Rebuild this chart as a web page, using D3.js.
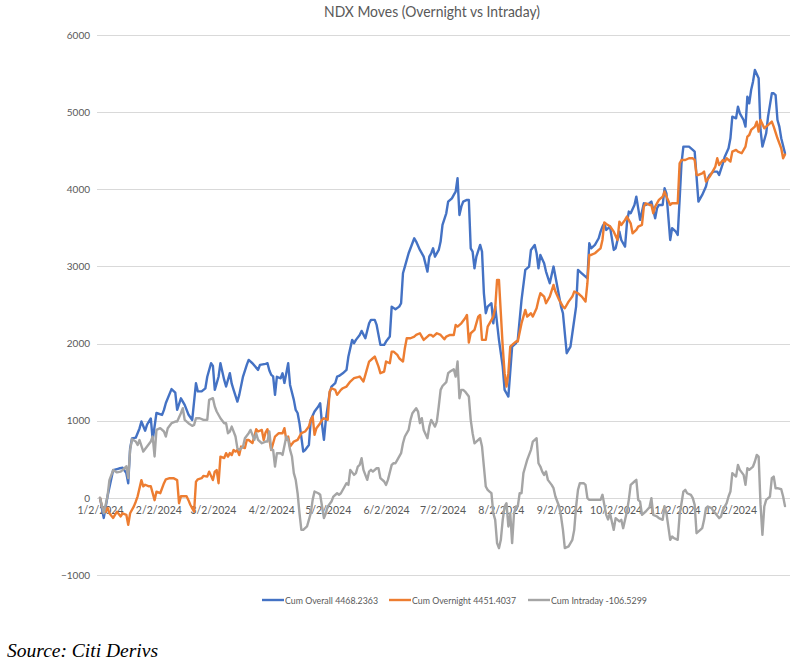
<!DOCTYPE html>
<html><head><meta charset="utf-8">
<script src="https://cdn.jsdelivr.net/npm/d3@7"></script>
<style>body{margin:0;background:#fff}svg{display:block}</style>
</head><body>
<svg id="chart" width="800" height="662"></svg>
<script>
const chartTitle = "NDX Moves (Overnight vs Intraday)";
const sourceNote = "Source: Citi Derivs";
const seriesNames = ["Cum Overall 4468.2363", "Cum Overnight 4451.4037", "Cum Intraday -106.5299"];
const yTicks = [-1000, 0, 1000, 2000, 3000, 4000, 5000, 6000];
const xTickLabels = ["1/2/2024","2/2/2024","3/2/2024","4/2/2024","5/2/2024","6/2/2024","7/2/2024","8/2/2024","9/2/2024","10/2/2024","11/2/2024","12/2/2024"];

const cumOverall = [
["2024-01-02",0],["2024-01-04",-260],["2024-01-06",20],["2024-01-09",360],["2024-01-12",380],["2024-01-14",390],["2024-01-16",320],["2024-01-17",190],["2024-01-18",640],["2024-01-19",770],["2024-01-21",780],["2024-01-23",900],["2024-01-24",990],["2024-01-26",870],["2024-01-27",950],["2024-01-29",1030],["2024-01-30",750],
["2024-02-01",1100],["2024-02-04",1075],["2024-02-05",1140],["2024-02-06",1230],["2024-02-09",1410],["2024-02-11",1365],["2024-02-12",1140],["2024-02-14",1290],["2024-02-16",1205],["2024-02-18",1080],["2024-02-20",1010],["2024-02-22",1486],["2024-02-23",1380],["2024-02-25",1380],["2024-02-27",1420],["2024-02-28",1570],
["2024-03-01",1745],["2024-03-02",1710],["2024-03-03",1400],["2024-03-05",1570],["2024-03-06",1745],["2024-03-08",1529],["2024-03-09",1443],["2024-03-11",1616],["2024-03-12",1480],["2024-03-13",1400],["2024-03-15",1248],["2024-03-16",1335],["2024-03-18",1572],["2024-03-20",1724],["2024-03-21",1788],["2024-03-23",1745],["2024-03-26",1659],["2024-03-27",1724],["2024-03-30",1737],["2024-03-31",1745],
["2024-04-01",1650],["2024-04-02",1594],["2024-04-03",1574],["2024-04-04",1335],["2024-04-05",1570],["2024-04-07",1550],["2024-04-08",1615],["2024-04-09",1490],["2024-04-10",1615],["2024-04-11",1745],["2024-04-12",1464],["2024-04-14",1270],["2024-04-15",1140],["2024-04-16",1100],["2024-04-17",968],["2024-04-19",600],["2024-04-20",620],["2024-04-22",685],["2024-04-23",1011],["2024-04-25",1119],["2024-04-27",1183],["2024-04-28",1227],["2024-04-29",950],["2024-04-30",752],
["2024-05-01",1011],["2024-05-03",1356],["2024-05-04",1443],["2024-05-06",1486],["2024-05-07",1572],["2024-05-08",1581],["2024-05-10",1615],["2024-05-12",1659],["2024-05-13",1832],["2024-05-15",2048],["2024-05-16",2005],["2024-05-17",2048],["2024-05-19",2112],["2024-05-20",2164],["2024-05-22",2069],["2024-05-24",2263],["2024-05-25",2307],["2024-05-27",2307],["2024-05-28",2242],["2024-05-30",1983],
["2024-06-01",1983],["2024-06-02",2026],["2024-06-04",2091],["2024-06-05",2479],["2024-06-07",2445],["2024-06-09",2479],["2024-06-10",2523],["2024-06-11",2911],["2024-06-12",2998],["2024-06-14",3171],["2024-06-16",3300],["2024-06-17",3365],["2024-06-18",3322],["2024-06-20",3214],["2024-06-22",3127],["2024-06-24",2933],["2024-06-25",3127],["2024-06-26",3171],["2024-06-27",3235],["2024-06-28",3127],["2024-06-30",3214],
["2024-07-01",3322],["2024-07-02",3538],["2024-07-04",3689],["2024-07-05",3840],["2024-07-07",3883],["2024-07-08",3927],["2024-07-09",3970],["2024-07-10",4143],["2024-07-11",3667],["2024-07-12",3775],["2024-07-13",3840],["2024-07-15",3862],["2024-07-16",3862],["2024-07-17",3235],["2024-07-18",3192],["2024-07-19",2976],["2024-07-20",3127],["2024-07-22",3279],["2024-07-23",3192],["2024-07-24",2652],["2024-07-25",2393],["2024-07-26",2479],["2024-07-27",2501],["2024-07-28",2523],["2024-07-29",2263],["2024-07-30",2479],
["2024-08-01",2048],["2024-08-03",1702],["2024-08-04",1400],["2024-08-05",1356],["2024-08-06",1313],["2024-08-08",1961],["2024-08-10",2004],["2024-08-11",2048],["2024-08-13",2566],["2024-08-15",2955],["2024-08-17",2998],["2024-08-18",3214],["2024-08-20",3279],["2024-08-21",3171],["2024-08-22",2976],["2024-08-23",3149],["2024-08-25",3041],["2024-08-26",2933],["2024-08-28",2782],["2024-08-30",2998],
["2024-09-01",2739],["2024-09-03",2479],["2024-09-04",2393],["2024-09-06",1875],["2024-09-08",1961],["2024-09-09",2134],["2024-09-11",2479],["2024-09-12",2955],["2024-09-14",2911],["2024-09-16",2868],["2024-09-17",2847],["2024-09-18",3300],["2024-09-19",3235],["2024-09-21",3279],["2024-09-23",3365],["2024-09-24",3451],["2024-09-25",3516],["2024-09-26",3560],["2024-09-27",3473],["2024-09-29",3516],
["2024-10-01",3214],["2024-10-02",3235],["2024-10-04",3451],["2024-10-05",3343],["2024-10-07",3257],["2024-10-08",3559],["2024-10-09",3711],["2024-10-10",3689],["2024-10-12",3797],["2024-10-13",3905],["2024-10-15",3603],["2024-10-17",3819],["2024-10-18",3797],["2024-10-20",3819],["2024-10-21",3840],["2024-10-23",3624],["2024-10-24",3754],["2024-10-25",3797],["2024-10-27",3797],["2024-10-28",4013],["2024-10-29",3948],["2024-10-31",3343],
["2024-11-01",3495],["2024-11-03",3451],["2024-11-04",3408],["2024-11-05",3862],["2024-11-06",4337],["2024-11-07",4553],["2024-11-10",4553],["2024-11-12",4510],["2024-11-13",4488],["2024-11-14",4164],["2024-11-15",3840],["2024-11-17",3927],["2024-11-19",4035],["2024-11-20",4143],["2024-11-21",4186],["2024-11-23",4229],["2024-11-25",4229],["2024-11-26",4186],["2024-11-28",4337],["2024-11-29",4423],
["2024-12-01",4531],["2024-12-02",4661],["2024-12-03",4942],["2024-12-05",4920],["2024-12-06",5071],["2024-12-07",4985],["2024-12-09",4898],["2024-12-10",4812],["2024-12-11",5201],["2024-12-12",5114],["2024-12-13",5287],["2024-12-14",5395],["2024-12-15",5546],["2024-12-17",5438],["2024-12-18",4769],["2024-12-19",4553],["2024-12-21",4726],["2024-12-22",4942],["2024-12-24",5244],["2024-12-25",5244],["2024-12-26",5222],["2024-12-27",4898],["2024-12-28",4812],["2024-12-29",4661],["2024-12-31",4468]
];

const cumOvernight = [
["2024-01-02",0],["2024-01-03",-110],["2024-01-05",-180],["2024-01-06",-130],["2024-01-07",-200],["2024-01-09",-260],["2024-01-11",-180],["2024-01-13",-240],["2024-01-14",-200],["2024-01-16",-220],["2024-01-17",-350],["2024-01-18",-200],["2024-01-20",-110],["2024-01-21",-50],["2024-01-22",20],["2024-01-24",230],["2024-01-25",150],["2024-01-26",170],["2024-01-28",150],["2024-01-29",150],["2024-01-31",-30],
["2024-02-01",80],["2024-02-03",60],["2024-02-05",190],["2024-02-06",240],["2024-02-08",255],["2024-02-10",255],["2024-02-12",230],["2024-02-13",-70],["2024-02-14",20],["2024-02-16",20],["2024-02-17",20],["2024-02-18",-30],["2024-02-19",-90],["2024-02-21",-180],["2024-02-22",210],["2024-02-23",240],["2024-02-25",255],["2024-02-26",285],["2024-02-28",275],["2024-02-29",340],
["2024-03-02",230],["2024-03-03",340],["2024-03-04",360],["2024-03-05",190],["2024-03-06",535],["2024-03-08",515],["2024-03-09",580],["2024-03-10",535],["2024-03-11",580],["2024-03-12",555],["2024-03-13",620],["2024-03-14",600],["2024-03-15",620],["2024-03-16",555],["2024-03-17",665],["2024-03-19",645],["2024-03-20",750],["2024-03-21",750],["2024-03-23",710],["2024-03-24",795],["2024-03-25",890],["2024-03-26",860],["2024-03-28",880],["2024-03-29",750],["2024-03-30",850],["2024-03-31",890],
["2024-04-02",620],["2024-04-04",795],["2024-04-06",838],["2024-04-08",838],["2024-04-09",903],["2024-04-10",752],["2024-04-11",795],["2024-04-12",665],["2024-04-14",730],["2024-04-16",752],["2024-04-18",838],["2024-04-20",860],["2024-04-22",924],["2024-04-23",1011],["2024-04-24",1054],["2024-04-25",816],["2024-04-26",903],["2024-04-28",968],["2024-04-29",1011],["2024-04-30",1032],
["2024-05-02",1011],["2024-05-03",1378],["2024-05-04",1421],["2024-05-06",1400],["2024-05-07",1335],["2024-05-09",1400],["2024-05-10",1421],["2024-05-12",1443],["2024-05-14",1508],["2024-05-16",1551],["2024-05-18",1564],["2024-05-19",1572],["2024-05-21",1508],["2024-05-22",1594],["2024-05-24",1767],["2024-05-26",1810],["2024-05-27",1832],["2024-05-29",1702],["2024-05-30",1616],
["2024-06-01",1637],["2024-06-02",1767],["2024-06-04",1745],["2024-06-05",1896],["2024-06-06",1896],["2024-06-08",1853],["2024-06-09",1810],["2024-06-11",1767],["2024-06-12",1940],["2024-06-13",2069],["2024-06-15",2069],["2024-06-17",2091],["2024-06-18",2112],["2024-06-20",2134],["2024-06-21",2091],["2024-06-22",2048],["2024-06-24",2091],["2024-06-25",2112],["2024-06-26",2112],["2024-06-27",2091],["2024-06-29",2134],
["2024-07-01",2112],["2024-07-03",2056],["2024-07-04",2091],["2024-07-06",2112],["2024-07-08",2112],["2024-07-09",2242],["2024-07-10",2220],["2024-07-12",2263],["2024-07-14",2328],["2024-07-15",2371],["2024-07-16",2013],["2024-07-17",2134],["2024-07-19",2177],["2024-07-21",2350],["2024-07-22",2371],["2024-07-23",2048],["2024-07-25",2048],["2024-07-26",2220],["2024-07-27",2263],["2024-07-29",2350],["2024-07-30",2458],["2024-07-31",2825],
["2024-08-01",2825],["2024-08-02",2393],["2024-08-03",1961],["2024-08-04",1616],["2024-08-05",1443],["2024-08-06",1616],["2024-08-07",1961],["2024-08-08",1983],["2024-08-10",2026],["2024-08-11",2026],["2024-08-13",2263],["2024-08-14",2350],["2024-08-15",2436],["2024-08-16",2350],["2024-08-18",2393],["2024-08-19",2350],["2024-08-21",2458],["2024-08-22",2566],["2024-08-23",2652],["2024-08-25",2609],["2024-08-26",2523],["2024-08-28",2609],["2024-08-30",2760],["2024-08-31",2674],
["2024-09-02",2566],["2024-09-04",2479],["2024-09-05",2458],["2024-09-07",2544],["2024-09-09",2609],["2024-09-10",2674],["2024-09-12",2652],["2024-09-14",2609],["2024-09-16",2544],["2024-09-17",2782],["2024-09-18",3149],["2024-09-19",3149],["2024-09-21",3171],["2024-09-23",3214],["2024-09-24",3235],["2024-09-25",3343],["2024-09-26",3570],["2024-09-27",3550],["2024-09-29",3520],
["2024-10-01",3451],["2024-10-03",3343],["2024-10-04",3581],["2024-10-05",3538],["2024-10-07",3603],["2024-10-08",3646],["2024-10-10",3559],["2024-10-11",3430],["2024-10-13",3473],["2024-10-14",3516],["2024-10-16",3538],["2024-10-17",3775],["2024-10-18",3819],["2024-10-20",3797],["2024-10-21",3797],["2024-10-22",3689],["2024-10-23",3775],["2024-10-25",3862],["2024-10-27",3905],["2024-10-28",3970],["2024-10-29",3905],["2024-10-31",3797],
["2024-11-01",3819],["2024-11-03",3819],["2024-11-04",3819],["2024-11-05",4337],["2024-11-06",4380],["2024-11-08",4380],["2024-11-10",4402],["2024-11-12",4402],["2024-11-13",4380],["2024-11-14",4186],["2024-11-15",4186],["2024-11-17",4207],["2024-11-18",4229],["2024-11-19",4099],["2024-11-21",4164],["2024-11-22",4207],["2024-11-24",4294],["2024-11-25",4402],["2024-11-26",4315],["2024-11-28",4380],["2024-11-29",4359],["2024-11-30",4402],
["2024-12-02",4359],["2024-12-03",4488],["2024-12-05",4510],["2024-12-06",4488],["2024-12-08",4467],["2024-12-10",4553],["2024-12-11",4683],["2024-12-12",4704],["2024-12-13",4769],["2024-12-15",4812],["2024-12-16",4877],["2024-12-17",4747],["2024-12-18",4898],["2024-12-20",4790],["2024-12-21",4812],["2024-12-23",4855],["2024-12-24",4877],["2024-12-25",4812],["2024-12-27",4661],["2024-12-29",4531],["2024-12-30",4402],["2024-12-31",4451]
];

const cumIntraday = [
["2024-01-02",0],["2024-01-04",-200],["2024-01-06",20],["2024-01-07",230],["2024-01-09",360],["2024-01-11",330],["2024-01-13",340],["2024-01-14",360],["2024-01-16",410],["2024-01-17",255],["2024-01-18",620],["2024-01-19",760],["2024-01-21",730],["2024-01-22",685],["2024-01-23",750],["2024-01-25",600],["2024-01-27",665],["2024-01-29",730],["2024-01-30",795],["2024-01-31",536],
["2024-02-01",881],["2024-02-03",903],["2024-02-05",860],["2024-02-06",795],["2024-02-07",903],["2024-02-09",968],["2024-02-11",989],["2024-02-12",989],["2024-02-14",1097],["2024-02-15",1162],["2024-02-16",1011],["2024-02-18",968],["2024-02-20",933],["2024-02-21",946],["2024-02-22",1032],["2024-02-24",1032],["2024-02-26",1011],["2024-02-28",1011],["2024-02-29",1270],
["2024-03-02",1292],["2024-03-03",1184],["2024-03-04",1119],["2024-03-06",1032],["2024-03-08",968],["2024-03-09",968],["2024-03-10",838],["2024-03-11",860],["2024-03-12",924],["2024-03-14",795],["2024-03-15",644],["2024-03-16",622],["2024-03-18",665],["2024-03-19",773],["2024-03-21",838],["2024-03-22",881],["2024-03-24",752],["2024-03-25",838],["2024-03-26",752],["2024-03-28",708],["2024-03-30",730],["2024-03-31",730],
["2024-04-01",860],["2024-04-02",622],["2024-04-03",622],["2024-04-04",406],["2024-04-05",579],["2024-04-07",579],["2024-04-08",557],["2024-04-10",795],["2024-04-11",752],["2024-04-12",622],["2024-04-13",536],["2024-04-14",320],["2024-04-15",233],["2024-04-16",60],["2024-04-17",-199],["2024-04-18",-415],["2024-04-19",-415],["2024-04-21",-371],["2024-04-22",-285],["2024-04-23",-199],["2024-04-24",-26],["2024-04-25",82],["2024-04-27",60],["2024-04-28",40],["2024-04-29",-112],["2024-04-30",-263],
["2024-05-01",-199],["2024-05-02",-112],["2024-05-04",-48],["2024-05-05",17],["2024-05-07",60],["2024-05-08",40],["2024-05-09",60],["2024-05-11",147],["2024-05-12",190],["2024-05-13",168],["2024-05-14",363],["2024-05-16",298],["2024-05-17",320],["2024-05-18",406],["2024-05-19",428],["2024-05-20",514],["2024-05-21",363],["2024-05-23",233],["2024-05-24",341],["2024-05-25",363],["2024-05-26",341],["2024-05-28",384],["2024-05-29",384],["2024-05-30",255],
["2024-06-01",212],["2024-06-02",168],["2024-06-03",233],["2024-06-05",428],["2024-06-06",449],["2024-06-07",449],["2024-06-08",492],["2024-06-10",579],["2024-06-11",708],["2024-06-12",795],["2024-06-14",881],["2024-06-15",1011],["2024-06-16",1097],["2024-06-18",1162],["2024-06-19",1119],["2024-06-20",968],["2024-06-21",1032],["2024-06-22",881],["2024-06-24",773],["2024-06-25",924],["2024-06-26",1011],["2024-06-27",968],["2024-06-28",924],["2024-06-29",989],["2024-06-30",1184],
["2024-07-01",1400],["2024-07-02",1450],["2024-07-04",1500],["2024-07-05",1616],["2024-07-06",1637],["2024-07-08",1667],["2024-07-09",1572],["2024-07-10",1767],["2024-07-11",1292],["2024-07-12",1400],["2024-07-13",1400],["2024-07-14",1378],["2024-07-16",1313],["2024-07-17",1011],["2024-07-18",838],["2024-07-19",708],["2024-07-20",730],["2024-07-22",773],["2024-07-23",665],["2024-07-24",406],["2024-07-25",147],["2024-07-26",104],["2024-07-27",82],["2024-07-28",60],["2024-07-29",-199],["2024-07-30",-285],["2024-07-31",-587],
["2024-08-01",-652],["2024-08-02",-544],["2024-08-03",-285],["2024-08-04",-112],["2024-08-05",-69],["2024-08-06",-371],["2024-08-07",-199],["2024-08-08",-587],["2024-08-09",-199],["2024-08-10",-112],["2024-08-11",-112],["2024-08-12",60],["2024-08-13",60],["2024-08-14",320],["2024-08-15",406],["2024-08-16",492],["2024-08-18",622],["2024-08-19",730],["2024-08-21",773],["2024-08-22",449],["2024-08-23",406],["2024-08-24",341],["2024-08-25",298],["2024-08-26",341],["2024-08-27",233],["2024-08-29",168],["2024-08-30",125],["2024-08-31",17],
["2024-09-02",-112],["2024-09-03",-242],["2024-09-04",-415],["2024-09-05",-652],["2024-09-07",-630],["2024-09-08",-587],["2024-09-09",-544],["2024-09-10",-415],["2024-09-11",-112],["2024-09-12",104],["2024-09-13",190],["2024-09-15",190],["2024-09-16",168],["2024-09-17",-4],["2024-09-18",-26],["2024-09-20",-26],["2024-09-22",-26],["2024-09-24",-26],["2024-09-25",40],["2024-09-26",-91],["2024-09-27",-220],["2024-09-28",-280],["2024-09-29",-199],
["2024-10-01",-415],["2024-10-02",-263],["2024-10-04",-306],["2024-10-05",-285],["2024-10-06",-393],["2024-10-08",-177],["2024-10-09",-26],["2024-10-10",168],["2024-10-12",212],["2024-10-13",233],["2024-10-14",-26],["2024-10-15",-48],["2024-10-16",-220],["2024-10-18",-177],["2024-10-20",-121],["2024-10-21",-4],["2024-10-22",-220],["2024-10-24",-242],["2024-10-25",-263],["2024-10-27",-285],["2024-10-28",-112],["2024-10-29",-199],["2024-10-31",-544],
["2024-11-01",-501],["2024-11-02",-523],["2024-11-04",-544],["2024-11-05",-220],["2024-11-07",82],["2024-11-08",104],["2024-11-09",60],["2024-11-11",39],["2024-11-12",-4],["2024-11-13",-91],["2024-11-14",-458],["2024-11-16",-415],["2024-11-17",-393],["2024-11-18",-285],["2024-11-19",-134],["2024-11-20",-112],["2024-11-22",-134],["2024-11-23",-177],["2024-11-24",-199],["2024-11-26",-263],["2024-11-27",-242],["2024-11-28",-155],["2024-11-30",-69],
["2024-12-01",17],["2024-12-02",82],["2024-12-03",320],["2024-12-05",276],["2024-12-06",428],["2024-12-07",363],["2024-12-09",298],["2024-12-10",168],["2024-12-11",384],["2024-12-12",363],["2024-12-14",406],["2024-12-15",471],["2024-12-16",557],["2024-12-17",535],["2024-12-18",-91],["2024-12-19",-479],["2024-12-20",-112],["2024-12-21",-26],["2024-12-23",17],["2024-12-24",255],["2024-12-25",276],["2024-12-26",125],["2024-12-27",125],["2024-12-29",112],["2024-12-30",17],["2024-12-31",-107]
];

// ---- styles / layout ----
const seriesColors = ["#4472C4", "#ED7D31", "#A5A5A5"];
const textColor = "#595959";
const gridColor = "#D9D9D9";

const parseDate = d3.timeParse("%Y-%m-%d");
const parseTick = d3.timeParse("%m/%d/%Y");
const fmtTick = d3.timeFormat("%-m/%-d/%Y");

const svg = d3.select("#chart");
const plotLeft = 97, plotRight = 790, plotTop = 35, plotBottom = 575;

const x = d3.scaleTime()
  .domain([parseDate("2024-01-02"), parseDate("2024-12-31")])
  .range([100, 785]);
const y = d3.scaleLinear()
  .domain([d3.min(yTicks), d3.max(yTicks)])
  .range([plotBottom, plotTop]);

// title
svg.append("text")
  .attr("x", 432).attr("y", 17)
  .attr("text-anchor", "middle")
  .attr("font-family", "Lato, 'Open Sans', sans-serif")
  .attr("font-size", 15)
  .attr("fill", textColor)
  .attr("textLength", 216).attr("lengthAdjust", "spacingAndGlyphs")
  .text(chartTitle);

// gridlines
svg.append("g").selectAll("line").data(yTicks).join("line")
  .attr("x1", plotLeft).attr("x2", plotRight)
  .attr("y1", d => Math.round(y(d)) + 0.5).attr("y2", d => Math.round(y(d)) + 0.5)
  .attr("stroke", gridColor).attr("stroke-width", 1);

// y axis labels
const yAxis = d3.axisLeft(y).tickValues(yTicks).tickSize(0).tickPadding(0).tickFormat(d3.format("d"));
const gy = svg.append("g").attr("transform", "translate(90,0)").call(yAxis);
gy.select(".domain").remove();
gy.selectAll("text").attr("font-family", "Lato, 'Open Sans', sans-serif").attr("font-size", 10).attr("fill", textColor);

// x axis labels (at the zero line)
const xAxis = d3.axisBottom(x)
  .tickValues(xTickLabels.map(parseTick))
  .tickSize(0).tickPadding(9)
  .tickFormat(fmtTick);
const gx = svg.append("g").attr("transform", `translate(0,${y(0)})`).call(xAxis);
gx.select(".domain").remove();
gx.selectAll("text").attr("font-family", "Lato, 'Open Sans', sans-serif").attr("font-size", 10.5).attr("fill", textColor);

// lines
const allSeries = [cumOverall, cumOvernight, cumIntraday];
const line = d3.line().x(d => x(parseDate(d[0]))).y(d => y(d[1]));
allSeries.forEach((s, i) => {
  svg.append("path")
    .datum(s)
    .attr("d", line)
    .attr("fill", "none")
    .attr("stroke", seriesColors[i])
    .attr("stroke-width", 2.4)
    .attr("stroke-linejoin", "round")
    .attr("stroke-linecap", "round");
});

// legend
const legendY = 600;
const legendWidths = [93, 104, 96];
const legendStarts = [262, 389, 528];
const lg = svg.append("g");
seriesNames.forEach((name, i) => {
  const x0 = legendStarts[i];
  lg.append("line")
    .attr("x1", x0).attr("x2", x0 + 22)
    .attr("y1", legendY).attr("y2", legendY)
    .attr("stroke", seriesColors[i]).attr("stroke-width", 2.4);
  lg.append("text")
    .attr("x", x0 + 23).attr("y", legendY).attr("dy", "0.35em")
    .attr("font-family", "Lato, 'Open Sans', sans-serif")
    .attr("font-size", 10)
    .attr("fill", textColor)
    .attr("textLength", legendWidths[i]).attr("lengthAdjust", "spacingAndGlyphs")
    .text(name);
});

// source
svg.append("text")
  .attr("x", 7).attr("y", 657)
  .attr("font-family", "'Liberation Serif', 'Times New Roman', serif")
  .attr("font-style", "italic")
  .attr("font-size", 19.5)
  .attr("fill", "#000")
  .attr("textLength", 151).attr("lengthAdjust", "spacingAndGlyphs")
  .text(sourceNote);
</script>
</body></html>
